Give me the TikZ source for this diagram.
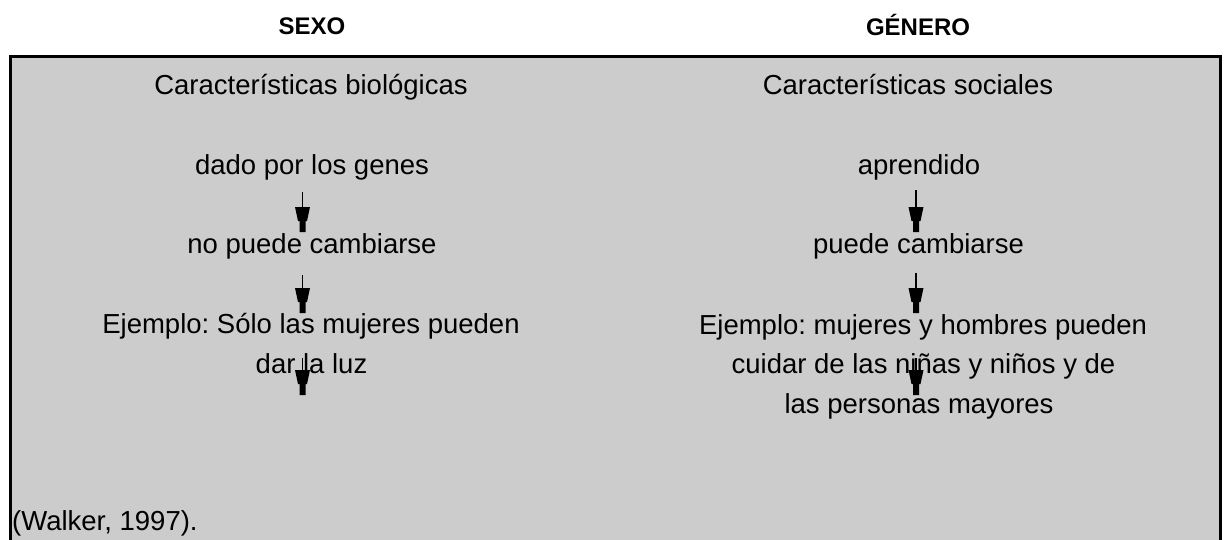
\documentclass[tikz,border=0pt]{standalone}
\usepackage{fontspec}
\setmainfont{Liberation Sans}
\frenchspacing
\begin{document}
\begin{tikzpicture}[x=1pt,y=-1pt,
 txt/.style={anchor=base,inner sep=0pt,font=\fontsize{27.5}{31}\selectfont},
 hdr/.style={anchor=base,inner sep=0pt,font=\fontsize{24}{28}\selectfont\bfseries},
 shaft/.style={line width=1.3pt,black},
 frame/.style={line width=3pt,black},
 arrowhead/.pic={\fill[black] (-7.5,0) -- (7.5,0) -- (4.5,14) -- (3,14) -- (3,25) -- (-3,25) -- (-3,14) -- (-4.5,14) -- cycle;}]
\definecolor{boxgray}{RGB}{204,204,204}
\useasboundingbox (0,0) rectangle (1225,540);
\fill[boxgray] (10.5,56.5) rectangle (1220.5,540);
\draw[frame] (10.5,541) -- (10.5,56.5) -- (1220.5,56.5) -- (1220.5,541);

\node[hdr] (sexo) at (312,35) {SEXO};
\node[hdr] (genero) at (918,36) {GÉNERO};

\node[txt] (bio) at (311,95) {Características biológicas};
\node[txt] (genes) at (312,175) {dado por los genes};
\node[txt] (nocamb) at (312,253) {no puede cambiarse};
\node[txt] (ej1a) at (311,333) {Ejemplo: Sólo las mujeres pueden};
\node[txt] (ej1b) at (311.5,373) {dar la luz};

\node[txt] (soc) at (908,95) {Características sociales};
\node[txt] (apr) at (919,175) {aprendido};
\node[txt] (camb) at (918.5,253) {puede cambiarse};
\node[txt] (ej2a) at (923,334) {Ejemplo: mujeres y hombres pueden};
\node[txt] (ej2b) at (923.5,373) {cuidar de las niñas y niños y de};
\node[txt] (ej2c) at (919,413) {las personas mayores};

\node[txt,anchor=base west] (walker) at (12,530) {(Walker, 1997).};

\coordinate (ls1) at (302.5,192); \coordinate (lh1) at (302.5,207);
\coordinate (ls2) at (302.5,275); \coordinate (lh2) at (302.5,288);
\coordinate (ls3) at (302.5,358); \coordinate (lh3) at (302.5,370);
\coordinate (rs1) at (916,190); \coordinate (rh1) at (916,207);
\coordinate (rs2) at (916,273); \coordinate (rh2) at (916,288);
\coordinate (rs3) at (916,358); \coordinate (rh3) at (916,370);

\foreach \a in {l,r}{
  \foreach \i in {1,2,3}{
    \draw[shaft] (\a s\i) -- (\a h\i);
    \pic at (\a h\i) {arrowhead};
  }
}
\end{tikzpicture}
\end{document}
